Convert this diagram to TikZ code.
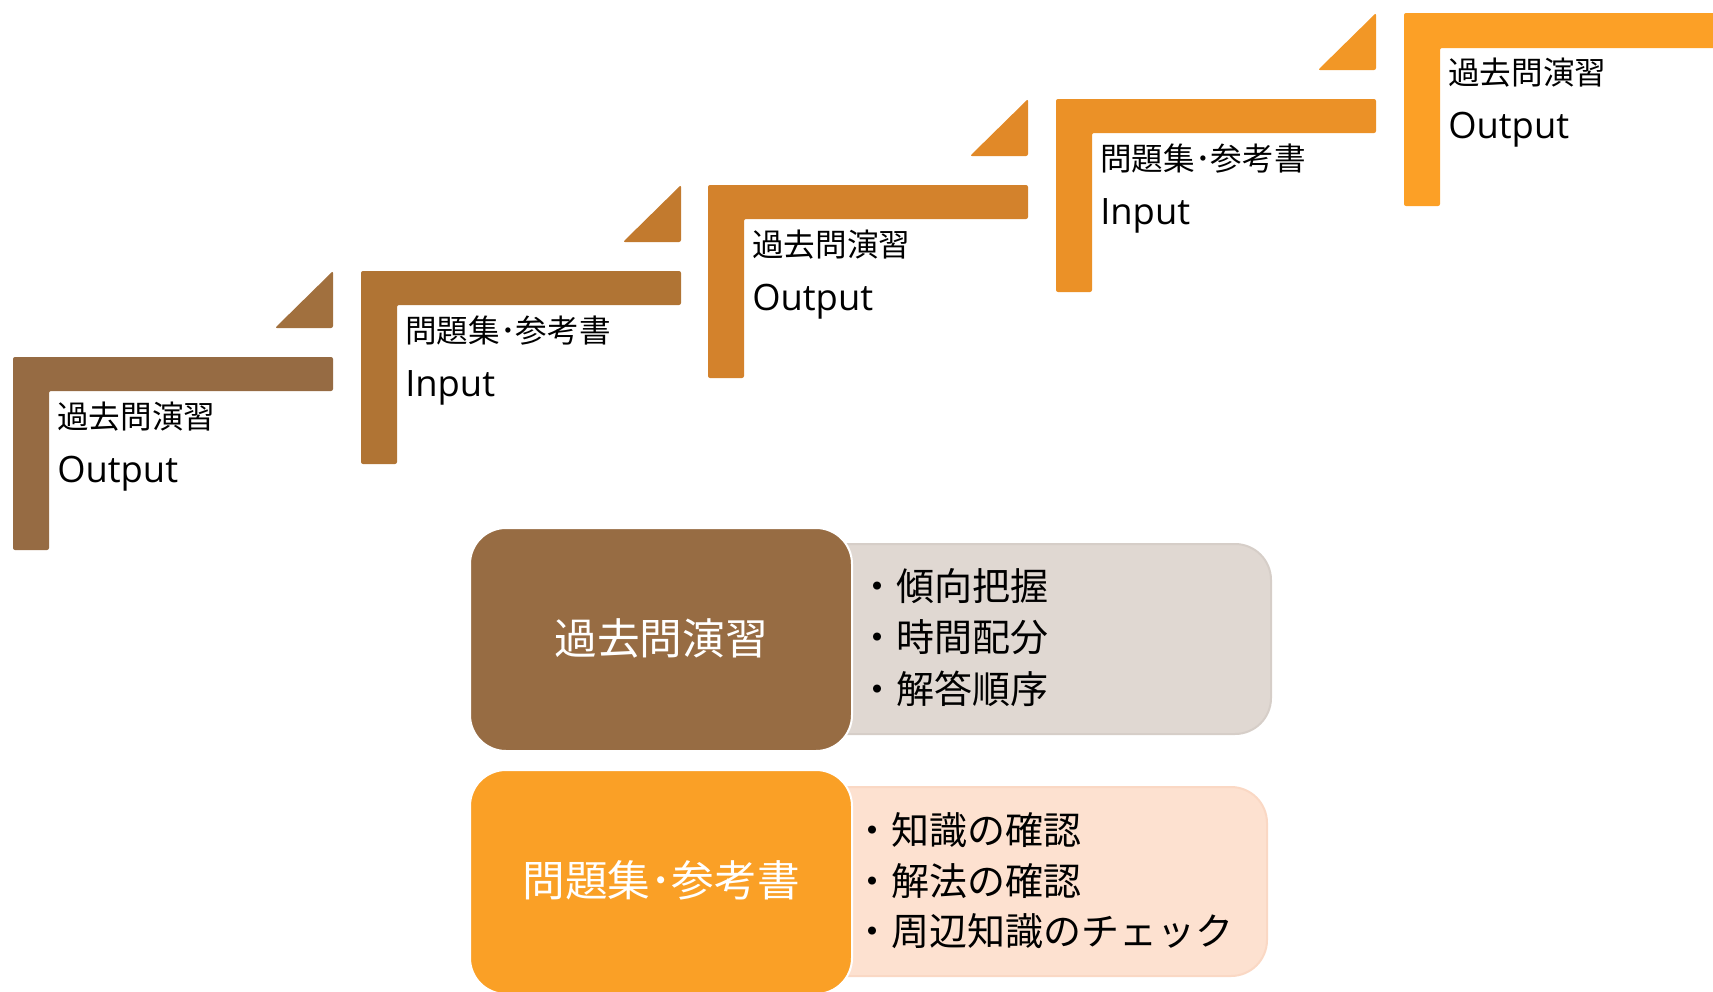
\documentclass[tikz,border=0pt]{standalone}
\usepackage{fontspec}
\setmainfont{Open Sans}[Scale=1.15]
\newfontfamily\jpfont{Noto Sans CJK JP}

\begin{document}
\begin{tikzpicture}[x=0.75pt,y=0.75pt,yscale=-1,xscale=1,
  stepshape/.style={rounded corners=1.5pt},
  steptext/.style={anchor=base west,inner sep=0pt,font=\fontsize{23.7}{28}\selectfont},
  boxtitle/.style={text=white,inner sep=0pt,font=\jpfont\fontsize{32}{38}\selectfont},
  boxitem/.style={anchor=west,inner sep=0pt,font=\jpfont\fontsize{28.5}{34}\selectfont}]
\useasboundingbox (0,0) rectangle (1713,992);

%Shape: L-Step 1
\fill [stepshape, fill={rgb, 255:red, 150; green, 107; blue, 67 }] (13,357) -- (333,357) -- (333,391) -- (49,391) -- (49,550) -- (13,550) -- cycle ;
%Shape: Triangle 1
\fill [stepshape, fill={rgb, 255:red, 161; green, 112; blue, 62 }] (333,271) -- (333,328) -- (275,328) -- cycle ;
%Shape: L-Step 2
\fill [stepshape, fill={rgb, 255:red, 176; green, 116; blue, 52 }] (361,271) -- (681,271) -- (681,305) -- (397,305) -- (397,464) -- (361,464) -- cycle ;
%Shape: Triangle 2
\fill [stepshape, fill={rgb, 255:red, 194; green, 122; blue, 46 }] (681,185) -- (681,242) -- (623,242) -- cycle ;
%Shape: L-Step 3
\fill [stepshape, fill={rgb, 255:red, 211; green, 130; blue, 44 }] (708,185) -- (1028,185) -- (1028,219) -- (744,219) -- (744,378) -- (708,378) -- cycle ;
%Shape: Triangle 3
\fill [stepshape, fill={rgb, 255:red, 225; green, 137; blue, 40 }] (1028,99) -- (1028,156) -- (970,156) -- cycle ;
%Shape: L-Step 4
\fill [stepshape, fill={rgb, 255:red, 235; green, 145; blue, 39 }] (1056,99) -- (1376,99) -- (1376,133) -- (1092,133) -- (1092,292) -- (1056,292) -- cycle ;
%Shape: Triangle 4
\fill [stepshape, fill={rgb, 255:red, 242; green, 151; blue, 38 }] (1376,13) -- (1376,70) -- (1318,70) -- cycle ;
%Shape: L-Step 5
\fill [stepshape, fill={rgb, 255:red, 252; green, 160; blue, 38 }] (1404,13) -- (1720,13) -- (1720,48) -- (1440,48) -- (1440,206) -- (1404,206) -- cycle ;

% Text Node
\node [steptext] (stepa) at (57,428) {\jpfont 過去問演習};
\node [steptext] (stepaio) at (57,482) {Output};
% Text Node
\node [steptext] (stepb) at (405,342) {\jpfont 問題集･参考書};
\node [steptext] (stepbio) at (405,396) {Input};
% Text Node
\node [steptext] (stepc) at (752,256) {\jpfont 過去問演習};
\node [steptext] (stepcio) at (752,310) {Output};
% Text Node
\node [steptext] (stepd) at (1100,170) {\jpfont 問題集･参考書};
\node [steptext] (stepdio) at (1100,224) {Input};
% Text Node
\node [steptext] (stepe) at (1448,84) {\jpfont 過去問演習};
\node [steptext] (stepeio) at (1448,138) {Output};

%Shape: Rounded Rectangle
\draw [draw={rgb, 255:red, 214; green, 206; blue, 200 }, fill={rgb, 255:red, 224; green, 216; blue, 210 }, line width=1.5, rounded corners=27pt] (800,544) rectangle (1271,734) ;
%Shape: Rounded Rectangle
\draw [draw=white, line width=1.5, fill={rgb, 255:red, 151; green, 108; blue, 67 }, rounded corners=27pt] (470,528) rectangle (852,751) ;
%Shape: Rounded Rectangle
\draw [draw={rgb, 255:red, 250; green, 216; blue, 196 }, fill={rgb, 255:red, 253; green, 225; blue, 208 }, line width=1.5, rounded corners=27pt] (800,787) rectangle (1267,976) ;
%Shape: Rounded Rectangle
\draw [draw=white, line width=1.5, fill={rgb, 255:red, 250; green, 160; blue, 38 }, rounded corners=27pt] (470,770) rectangle (852,994) ;

% Text Node
\node [boxtitle] (pasttitle) at (661,638) {過去問演習};
\node [boxitem] (pastitema) at (858,586) {・傾向把握};
\node [boxitem] (pastitemb) at (858,637) {・時間配分};
\node [boxitem] (pastitemc) at (858,689) {・解答順序};
% Text Node
\node [boxtitle] (booktitle) at (661,880) {問題集･参考書};
\node [boxitem] (bookitema) at (853,830) {・知識の確認};
\node [boxitem] (bookitemb) at (853,881) {・解法の確認};
\node [boxitem] (bookitemc) at (853,931) {・周辺知識のチェック};

\end{tikzpicture}
\end{document}
